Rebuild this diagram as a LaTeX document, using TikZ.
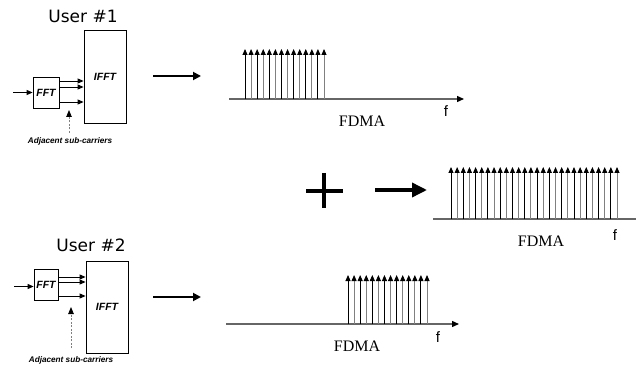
\documentclass[tikz,border=0pt]{standalone}
\usepackage{fontspec}
\setmainfont{Liberation Serif}
\setsansfont{Liberation Sans}
\newfontfamily\userfont{DejaVu Sans}
\usetikzlibrary{arrows.meta}
\begin{document}
\begin{tikzpicture}[x=1pt,y=-1pt,
  box/.style={draw, line width=0.8pt, inner sep=0pt,
    font=\sffamily\bfseries\itshape\fontsize{10.5}{12}\selectfont},
  usr/.style={font=\userfont\fontsize{17}{20}\selectfont, inner sep=0pt},
  adj/.style={font=\sffamily\bfseries\itshape\fontsize{8.2}{10}\selectfont, inner sep=0pt},
  fdma/.style={font=\rmfamily\fontsize{16}{18}\selectfont, inner sep=0pt},
  fl/.style={font=\sffamily\fontsize{15}{17}\selectfont, inner sep=0pt},
  thin arr/.style={line width=0.9pt, -{Triangle[length=6pt,width=5pt]}},
  dash arr/.style={line width=0.8pt, gray, dashed, dash pattern=on 2pt off 1.5pt,
    -{Triangle[length=7pt,width=5.5pt,black]}},
  mid arr/.style={line width=1.8pt, -{Triangle[length=8pt,width=8pt]}},
  big arr/.style={line width=3.5pt, -{Triangle[length=15pt,width=14pt]}},
  axis/.style={line width=1.3pt, gray!80!black, -{Triangle[length=7pt,width=6pt,black]}},
  stick/.style={line width=0.9pt, -{Triangle[length=6pt,width=5pt,black]}},
]
\useasboundingbox (0,0) rectangle (636,371);

% ---------- User #1 ----------
\node[usr] (u1) at (83,16) {User \#1};
\node[box, minimum width=42pt, minimum height=93pt] (ifft1) at (105,76.5) {IFFT};
\node[box, minimum width=26pt, minimum height=31pt] (fft1) at (46,92.5) {FFT};
\coordinate (in1) at (13,92.5);
\draw[thin arr] (in1) -- (fft1.west);
\foreach \yy in {81,87,102}{
  \draw[thin arr] (fft1.east |- 0,\yy) -- (ifft1.west |- 0,\yy);
}
\coordinate (d1s) at (69,133);
\coordinate (d1e) at (69,110);
\draw[dash arr] (d1s) -- (d1e);
\node[adj] (adj1) at (70,141) {Adjacent sub-carriers};
\coordinate (a1s) at (153,76);
\coordinate (a1e) at (201,76);
\draw[mid arr] (a1s) -- (a1e);

% spectrum 1
\coordinate (ax1s) at (229,99);
\coordinate (ax1e) at (464,99);
\draw[axis] (ax1s) -- (ax1e);
\foreach \i in {0,...,13}{
  \pgfmathsetmacro\xx{245+\i*79/13}
  \ifodd\i\def\cc{gray}\else\def\cc{black}\fi
  \draw[stick, \cc] (\xx,99) -- (\xx,49);
}
\node[fdma] (f1) at (362,121) {FDMA};
\node[fl] (fv1) at (446,111) {f};

% ---------- sum ----------
\draw[line width=3.5pt] (306,191) -- (343,191);
\draw[line width=3.5pt] (324,173) -- (324,208);
\coordinate (a3s) at (375,190);
\coordinate (a3e) at (427,190);
\draw[big arr] (a3s) -- (a3e);

\draw[line width=1.3pt, gray!80!black] (433,219) -- (636,219);
\foreach \i in {0,...,27}{
  \pgfmathsetmacro\xx{451+\i*166/27}
  \ifodd\i\def\cc{gray}\else\def\cc{black}\fi
  \draw[stick, \cc] (\xx,219) -- (\xx,167);
}
\node[fdma] (f3) at (541,241) {FDMA};
\node[fl] (fv3) at (615,235) {f};

% ---------- User #2 ----------
\node[usr] (u2) at (91,245) {User \#2};
\node[box, minimum width=42pt, minimum height=92pt] (ifft2) at (107,307) {IFFT};
\node[box, minimum width=24pt, minimum height=31pt] (fft2) at (46,284.5) {FFT};
\coordinate (in2) at (14,286.5);
\draw[thin arr] (in2) -- (fft2.west |- in2);
\foreach \yy in {277,282,296}{
  \draw[thin arr] (fft2.east |- 0,\yy) -- (ifft2.west |- 0,\yy);
}
\coordinate (d2s) at (71,348);
\coordinate (d2e) at (71,307);
\draw[dash arr] (d2s) -- (d2e);
\node[adj] (adj2) at (71,360) {Adjacent sub-carriers};
\coordinate (a2s) at (153,297);
\coordinate (a2e) at (201,297);
\draw[mid arr] (a2s) -- (a2e);

% spectrum 2
\coordinate (ax2s) at (226,324);
\coordinate (ax2e) at (459,324);
\draw[axis] (ax2s) -- (ax2e);
\foreach \i in {0,...,13}{
  \pgfmathsetmacro\xx{348+\i*79/13}
  \ifodd\i\def\cc{gray}\else\def\cc{black}\fi
  \draw[stick, \cc] (\xx,324) -- (\xx,275);
}
\node[fdma] (f2) at (357,346) {FDMA};
\node[fl] (fv2) at (438,337) {f};
\end{tikzpicture}
\end{document}
